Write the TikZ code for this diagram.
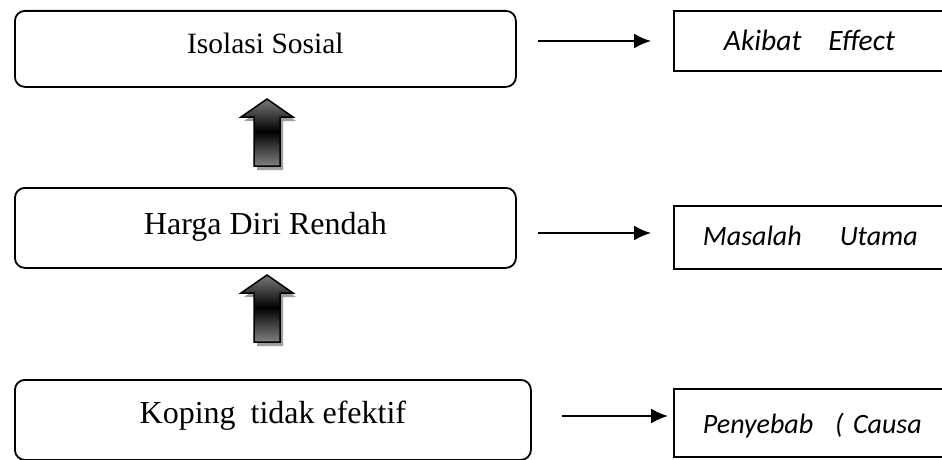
\documentclass[tikz,border=0pt]{standalone}
\usepackage{fontspec}
\setmainfont{Liberation Serif}
\newfontfamily\tagfont{Carlito}
\usetikzlibrary{positioning,arrows.meta}

\tikzset{
  stagebox/.style={draw, line width=1.8pt, rounded corners=10pt, inner xsep=0pt, inner ysep=0pt, anchor=north west, align=center},
  tagbox/.style={draw, line width=1.9pt, inner ysep=0pt, anchor=north west, text width=300pt, align=left, font=\tagfont\itshape\fontsize{28}{32}\selectfont},
  thinarrow/.style={-{Latex[length=17pt,width=15pt]}, line width=1.9pt},
  blockarrow/.style={draw=black, line width=1.5pt},
  blockshadow/.style={fill=black!38, draw=none}
}

\begin{document}
\begin{tikzpicture}[x=1pt, y=-1pt]
    \useasboundingbox (0,0) rectangle (942,460);
    \clip (0,0) rectangle (942,460);
    % Left column
    \node [stagebox, minimum width=501pt, text height=42.5pt, text depth=33.5pt, font=\fontsize{29.5}{34}\selectfont] (isolasi) at (14,10) {Isolasi Sosial};
    \node [stagebox, minimum width=501pt, text height=47pt, text depth=33pt, font=\fontsize{32}{37}\selectfont] (harga) at (14,187) {Harga Diri Rendah};
    \node [stagebox, minimum width=516pt, text height=44pt, text depth=36pt, font=\fontsize{32}{37}\selectfont] (koping) at (14,379) {Koping\hspace{15pt}tidak efektif};
    % Right column
    \node [tagbox, inner xsep=50pt, text height=40pt, text depth=20pt, font=\tagfont\itshape\fontsize{29.5}{34}\selectfont] (akibat) at (673,10) {Akibat\hspace{27pt}Effect};
    \node [tagbox, inner xsep=29pt, text height=40pt, text depth=23pt] (masalah) at (673,205) {Masalah\hspace{38pt}Utama};
    \node [tagbox, inner xsep=29pt, text height=45pt, text depth=23pt] (penyebab) at (673,388) {Penyebab\hspace{22pt}( Causa};
    % Arrows
    \coordinate (a1s) at (538,41);
    \coordinate (a1e) at (651,41);
    \coordinate (a2s) at (538,233);
    \coordinate (a2e) at (651,233);
    \coordinate (a3s) at (562,416);
    \coordinate (a3e) at (668,416);
    \draw [thinarrow] (a1s) -- (a1e);
    \draw [thinarrow] (a2s) -- (a2e);
    \draw [thinarrow] (a3s) -- (a3e);
    % Block arrows, shaded in strips (dark in the middle)
    \foreach \ty in {99,275} {
        \begin{scope}[shift={(267,\ty)}]
            \fill [blockshadow, shift={(3,4)}] (0,0) -- (26,18) -- (13,18) -- (13,67) -- (-13,67) -- (-13,18) -- (-26,18) -- cycle;
            \begin{scope}
                \clip (0,0) -- (26,18) -- (13,18) -- (13,67) -- (-13,67) -- (-13,18) -- (-26,18) -- cycle;
                \foreach \i in {0,2,...,66} {
                    \pgfmathsetmacro\tone{100-50*abs(\i-32)/34}
                    \fill [black!\tone] (-27,\i) rectangle (27,\i+2.3);
                }
            \end{scope}
            \draw [blockarrow] (0,0) -- (26,18) -- (13,18) -- (13,67) -- (-13,67) -- (-13,18) -- (-26,18) -- cycle;
        \end{scope}
    }
\end{tikzpicture}
\end{document}
